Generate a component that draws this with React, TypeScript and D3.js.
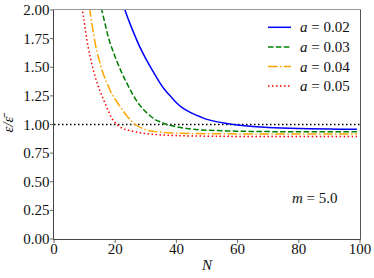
import React from 'react';
import * as d3 from 'd3';

// values (N, eps / eps-bar)
const blueN = [22, 23.2, 25, 28, 30, 32, 34, 36, 38, 40, 42, 45, 48, 50, 53, 56, 60, 65, 70, 80, 90, 99];
const blueV = [2.12, 2.0, 1.87, 1.68, 1.575, 1.48, 1.39, 1.31, 1.25, 1.19, 1.145, 1.1, 1.065, 1.045, 1.025, 1.01, 0.995, 0.982, 0.973, 0.964, 0.96, 0.958];

const greenN = [14, 15.6, 18, 20, 22, 24, 26, 28, 30, 33, 35, 36.8, 40, 45, 50, 60, 70, 80, 99];
const greenV = [2.15, 2.0, 1.74, 1.59, 1.46, 1.35, 1.25, 1.17, 1.11, 1.045, 1.02, 1.0, 0.98, 0.96, 0.95, 0.942, 0.938, 0.937, 0.936];

const orangeN = [10, 11.7, 13, 14, 15, 16, 17, 18, 19, 20, 22, 24, 26.5, 30, 32.5, 35, 40, 50, 60, 80, 99];
const orangeV = [2.3, 2.0, 1.78, 1.64, 1.54, 1.45, 1.38, 1.32, 1.26, 1.22, 1.14, 1.07, 1.0, 0.955, 0.94, 0.933, 0.925, 0.92, 0.918, 0.917, 0.917];

const redN = [8, 9.3, 10, 11, 12, 13, 14, 15, 16, 17, 18, 19, 20, 21, 22, 23, 25, 28, 30, 34, 40, 50, 60, 99];
const redV = [2.3, 2.0, 1.87, 1.7, 1.57, 1.46, 1.37, 1.295, 1.23, 1.165, 1.105, 1.05, 1.015, 0.99, 0.972, 0.96, 0.945, 0.928, 0.92, 0.911, 0.903, 0.898, 0.896, 0.895];

const seriesValues = ['0.02', '0.03', '0.04', '0.05'];
const xTicks = [0, 20, 40, 60, 80, 100];
const yTicks = [0, 0.25, 0.5, 0.75, 1.0, 1.25, 1.5, 1.75, 2.0];

const W = 374;
const H = 278;
const left = 54;
const right = 360;
const top = 10;
const bottom = 239;
const font = 'Liberation Serif';
const fs = 15;

const x = d3.scaleLinear().domain([0, 100]).range([left, right]);
const y = d3.scaleLinear().domain([0, 2]).range([bottom, top]);

const styles = [
    { color: '#0000ff', dash: 'none' },
    { color: '#008000', dash: '5.5,2.4' },
    { color: '#ffa500', dash: '9.6,2.4,1.5,2.4' },
    { color: '#ff0000', dash: '1.5,2.5' },
];

const App: React.FC = () => {
    const series = [
        d3.zip(blueN, blueV),
        d3.zip(greenN, greenV),
        d3.zip(orangeN, orangeV),
        d3.zip(redN, redV),
    ];

    const line = d3.line<number[]>()
        .x(d => x(d[0]))
        .y(d => y(d[1]))
        .curve(d3.curveCatmullRom.alpha(0.5));

    return (
        <div style={{ position: 'absolute', left: 0, top: 0 }}>
            <svg width={W} height={H} style={{ display: 'block', background: 'white' }}>
                <defs>
                    <clipPath id="plotClip">
                        <rect x={left} y={top} width={right - left} height={bottom - top} />
                    </clipPath>
                </defs>

                {/* reference line at 1 */}
                <line x1={x(0)} x2={x(100)} y1={y(1)} y2={y(1)}
                    stroke="black" strokeWidth={1.5} strokeDasharray="1.5,2.5" />

                <g clipPath="url(#plotClip)">
                    {series.map((s, i) => (
                        <path key={i} d={line(s) || ''} fill="none"
                            stroke={styles[i].color} strokeWidth={1.5}
                            strokeDasharray={styles[i].dash} />
                    ))}
                </g>

                {/* frame */}
                <line x1={left} x2={right + 0.5} y1={top - 0.5} y2={top - 0.5} stroke="#999" strokeWidth={1} />
                <line x1={right + 0.5} x2={right + 0.5} y1={top - 0.5} y2={bottom + 0.5} stroke="#555" strokeWidth={1} />
                <line x1={left - 0.5} x2={left - 0.5} y1={top - 0.5} y2={bottom + 0.5} stroke="#444" strokeWidth={1} />
                <line x1={left - 0.5} x2={right + 0.5} y1={bottom + 0.5} y2={bottom + 0.5} stroke="#444" strokeWidth={1} />

                {/* y axis */}
                {yTicks.map(t => (
                    <g key={t}>
                        <line x1={left - 4} x2={left - 0.5} y1={y(t)} y2={y(t)} stroke="#444" strokeWidth={0.8} />
                        <text x={left - 4.5} y={y(t) + 5} textAnchor="end" fontFamily={font} fontSize={fs} fill="#111">
                            {d3.format('.2f')(t)}
                        </text>
                    </g>
                ))}

                {/* x axis */}
                {xTicks.map(t => (
                    <g key={t}>
                        <line x1={x(t)} x2={x(t)} y1={bottom + 0.5} y2={bottom + 4} stroke="#444" strokeWidth={0.8} />
                        <text x={x(t)} y={bottom + 14.5} textAnchor="middle" fontFamily={font} fontSize={fs} fill="#111">
                            {t}
                        </text>
                    </g>
                ))}

                <text x={207} y={270} textAnchor="middle" fontFamily={font} fontSize={fs} fontStyle="italic" fill="#111">N</text>
                <text transform={`translate(13, ${y(1)}) rotate(-90)`} textAnchor="middle" fontFamily={font} fontSize={fs} fontStyle="italic" fill="#111">
                    ε/ε̄
                </text>

                {/* legend */}
                {seriesValues.map((v, i) => {
                    const ly = 27.3 + i * 19.6;
                    return (
                        <g key={v}>
                            <line x1={268} x2={291} y1={ly} y2={ly} stroke={styles[i].color} strokeWidth={1.5} strokeDasharray={styles[i].dash} />
                            <text x={300} y={ly + 5} fontFamily={font} fontSize={fs} fill="#111">
                                <tspan fontStyle="italic">a</tspan> = {v}
                            </text>
                        </g>
                    );
                })}

                <text x={292} y={203} fontFamily={font} fontSize={fs} fill="#111">
                    <tspan fontStyle="italic">m</tspan> = 5.0
                </text>
            </svg>
        </div>
    );
};

export default App;
